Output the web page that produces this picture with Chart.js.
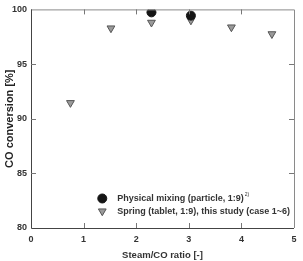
<!DOCTYPE html>
<html><head><meta charset="utf-8">
<script src="https://cdn.jsdelivr.net/npm/chart.js@4/dist/chart.umd.min.js"></script>
<style>html,body{margin:0;padding:0;background:#fff}#w{width:303px;height:261px}</style>
</head><body><div id="w"><canvas id="c"></canvas></div>
<script>
const xTicks = [0,1,2,3,4,5];
const yTicks = [80,85,90,95,100];
const mixingLabel = "Physical mixing (particle, 1:9)";
const mixingSup = "2)";
const mixingX = [2.29, 3.04];
const mixingY = [99.73, 99.43];
const springLabel = "Spring (tablet, 1:9), this study (case 1~6)";
const springX = [0.75, 1.52, 2.29, 3.04, 3.81, 4.58];
const springY = [91.45, 98.28, 98.8, 99.0, 98.37, 97.75];

const font = "Arial, 'Liberation Sans', sans-serif";

const framePlugin = {
  id: 'frame',
  afterDatasetsDraw(chart) {
    const {ctx, chartArea: a, scales: {x, y}} = chart;
    ctx.save();
    ctx.lineWidth = 1;
    ctx.strokeStyle = '#8a8a8a';
    ctx.beginPath();
    ctx.moveTo(a.left, a.top + 0.5); ctx.lineTo(a.right + 0.5, a.top + 0.5); ctx.lineTo(a.right + 0.5, a.bottom);
    ctx.stroke();
    ctx.strokeStyle = '#444';
    ctx.beginPath();
    ctx.moveTo(a.left + 0.5, a.top); ctx.lineTo(a.left + 0.5, a.bottom + 0.5); ctx.lineTo(a.right, a.bottom + 0.5);
    ctx.stroke();
    ctx.strokeStyle = '#777';
    const L = 5;
    ctx.beginPath();
    xTicks.slice(1, -1).forEach(v => {
      const px = Math.round(x.getPixelForValue(v)) + 0.5;
      ctx.moveTo(px, a.top); ctx.lineTo(px, a.top + L);
      ctx.moveTo(px, a.bottom); ctx.lineTo(px, a.bottom - L);
    });
    yTicks.slice(1, -1).forEach(v => {
      const py = Math.round(y.getPixelForValue(v)) + 0.5;
      ctx.moveTo(a.left, py); ctx.lineTo(a.left + L, py);
      ctx.moveTo(a.right, py); ctx.lineTo(a.right - L, py);
    });
    ctx.stroke();
    // legend
    const items = chart.data.datasets;
    const lx = x.getPixelForValue(1.355), ly0 = y.getPixelForValue(82.7);
    items.forEach((ds, i) => {
      const yy = ly0 + i * 12.7;
      ctx.fillStyle = ds.backgroundColor; ctx.strokeStyle = ds.borderColor; ctx.lineWidth = ds.borderWidth;
      Chart.helpers.drawPoint(ctx, {pointStyle: ds.pointStyle, radius: ds.pointRadius, borderWidth: ds.borderWidth, rotation: ds.pointRotation || 0}, lx, yy);
      ctx.font = 'bold 9px ' + font;
      ctx.fillStyle = '#333';
      ctx.textBaseline = 'middle';
      ctx.textAlign = 'left';
      const tx = lx + 15;
      ctx.fillText(ds.label, tx, yy);
      if (i === 0) {
        const w = ctx.measureText(ds.label).width;
        ctx.font = '5px ' + font;
        ctx.fillText(mixingSup, tx + w + 1, yy - 4);
      }
    });
    ctx.restore();
  }
};

new Chart(document.getElementById('c'), {
  type: 'scatter',
  data: {
    datasets: [
      {label: mixingLabel, data: mixingX.map((v, i) => ({x: v, y: mixingY[i]})),
       pointStyle: 'circle', pointRadius: 4.5, backgroundColor: '#151515', borderColor: '#151515', borderWidth: 1},
      {label: springLabel, data: springX.map((v, i) => ({x: v, y: springY[i]})),
       pointStyle: 'triangle', pointRotation: 180, pointRadius: 4.5, backgroundColor: '#9a9a9a', borderColor: '#555', borderWidth: 1}
    ]
  },
  options: {
    responsive: true, maintainAspectRatio: false, animation: false,
    layout: {padding: {top: 7, right: 9, left: 0, bottom: 0}},
    plugins: {legend: {display: false}, tooltip: {enabled: false}},
    scales: {
      x: {
        type: 'linear', min: 0, max: 5,
        afterBuildTicks: s => { s.ticks = xTicks.map(v => ({value: v})); },
        grid: {display: false, drawTicks: false}, border: {display: false},
        ticks: {color: '#333', font: {family: font, size: 9, weight: 'bold'}, padding: 6},
        title: {display: true, text: 'Steam/CO ratio [-]', color: '#333', font: {family: font, size: 9.5, weight: 'bold'}, padding: {top: 3, bottom: 0}},
        afterFit: s => { s.height = 33; }
      },
      y: {
        type: 'linear', min: 80, max: 100,
        afterBuildTicks: s => { s.ticks = yTicks.map(v => ({value: v})); },
        grid: {display: false, drawTicks: false}, border: {display: false},
        ticks: {color: '#333', font: {family: font, size: 9, weight: 'bold'}, padding: 4},
        title: {display: true, text: 'CO conversion [%]', color: '#222', font: {family: font, size: 11, weight: 'bold'}, padding: {top: 3, bottom: 2}},
        afterFit: s => { s.width = 31; }
      }
    }
  },
  plugins: [framePlugin]
});
</script></body></html>
